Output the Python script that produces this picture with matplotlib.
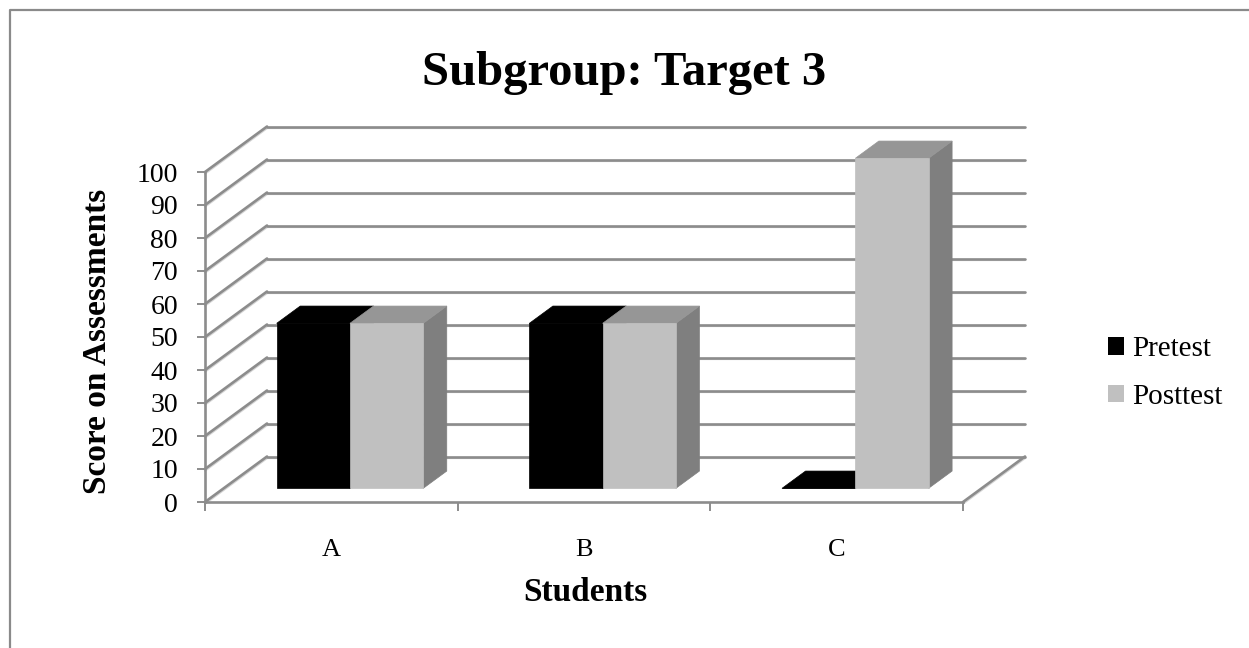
import matplotlib
matplotlib.use("Agg")
import matplotlib.pyplot as plt
import matplotlib.transforms as mtransforms
from matplotlib.patches import Polygon, Patch
from matplotlib.lines import Line2D

# ---- data ----
students = ["A", "B", "C"]
series_names = ["Pretest", "Posttest"]
pretest = [50, 50, 0]
posttest = [50, 50, 100]
y_ticks = list(range(0, 101, 10))

# ---- styling ----
FONT = ["Liberation Serif", "DejaVu Serif"]
plt.rcParams["font.family"] = FONT
GRID = "#8c8c8c"
GRID_SHADOW = "#d4d4d4"
face_colors = {
    "Pretest": {"front": "#000000", "top": "#000000", "side": "#000000"},
    "Posttest": {"front": "#c0c0c0", "top": "#969696", "side": "#7f7f7f"},
}

W, H = 1249, 648
fig = plt.figure(figsize=(W / 100, H / 100), dpi=100)

# front plane of the 3-D box (pixels) and depth offset of the back wall
front_left, front_right, front_bottom, front_top = 205, 963, 502, 172
depth_px_x, depth_px_y = 62, 45.5
n_cat = len(students)
ymax = 100
px_per_cat = (front_right - front_left) / n_cat
px_per_unit = (front_bottom - front_top) / ymax
DX = depth_px_x / px_per_cat      # depth vector in data units
DY = depth_px_y / px_per_unit

ax = fig.add_axes([front_left / W, (H - front_bottom) / H,
                   (front_right + depth_px_x - front_left) / W,
                   (front_bottom - front_top + depth_px_y) / H])
ax.set_xlim(0, n_cat + DX)
ax.set_ylim(0, ymax + DY)
ax.set_facecolor("none")

# shadow transform for the 3-D grid lines
shadow = mtransforms.offset_copy(ax.transData, fig=fig, x=0, y=-1.6, units="dots")


def gridline(xs, ys):
    ax.plot(xs, ys, color=GRID_SHADOW, lw=1.6, transform=shadow,
            solid_capstyle="round", zorder=1, clip_on=False)
    ax.plot(xs, ys, color=GRID, lw=1.9, solid_capstyle="round",
            zorder=2, clip_on=False)


# back wall horizontals and side wall diagonals
for v in y_ticks:
    gridline([DX, n_cat + DX], [v + DY, v + DY])
    gridline([0, DX], [v, v + DY])
# floor right edge
gridline([n_cat, n_cat + DX], [0, DY])

# ---- 3-D bars ----
bar_w = 0.29
d0, d1 = 0.30, 0.68


def shift(x, y, d):
    return (x + d * DX, y + d * DY)


def draw_bar(x0, x1, v, colors, z):
    front = [shift(x0, 0, d0), shift(x1, 0, d0), shift(x1, v, d0), shift(x0, v, d0)]
    top = [shift(x0, v, d0), shift(x1, v, d0), shift(x1, v, d1), shift(x0, v, d1)]
    side = [shift(x1, 0, d0), shift(x1, 0, d1), shift(x1, v, d1), shift(x1, v, d0)]
    for pts, key in ((side, "side"), (top, "top"), (front, "front")):
        ax.add_patch(Polygon(pts, closed=True, facecolor=colors[key],
                             edgecolor=colors[key], lw=0.5, zorder=z,
                             clip_on=False))


z = 5
for i in range(n_cat):
    c = i + 0.5
    draw_bar(c - bar_w, c, pretest[i], face_colors["Pretest"], z)
    z += 1
    draw_bar(c, c + bar_w, posttest[i], face_colors["Posttest"], z)
    z += 1

# ---- axes spines and ticks ----
for s in ("top", "right"):
    ax.spines[s].set_visible(False)
for s in ("left", "bottom"):
    ax.spines[s].set_color(GRID)
    ax.spines[s].set_linewidth(1.9)
    ax.spines[s].set_zorder(50)
ax.spines["left"].set_bounds(0, ymax)
ax.spines["bottom"].set_bounds(0, n_cat)

ax.set_yticks(y_ticks)
ax.set_yticklabels([str(t) for t in y_ticks])
ax.tick_params(axis="y", direction="out", length=6, width=1.4, color=GRID,
               pad=13.5, labelsize=20, labelcolor="black")
ax.set_xticks(range(n_cat + 1))
ax.set_xticklabels([])
ax.tick_params(axis="x", which="major", direction="out", length=6.5,
               width=1.4, color=GRID)
ax.set_xticks([i + 0.5 for i in range(n_cat)], minor=True)
ax.set_xticklabels(students, minor=True)
ax.tick_params(axis="x", which="minor", length=0, pad=26.5, labelsize=19,
               labelcolor="black")

# ---- text ----
fig.text(0.5, (H - 85) / H, "Subgroup: Target 3", ha="center", va="baseline",
         fontsize=35, fontweight="bold")
fig.text(585 / W, (H - 601) / H, "Students", ha="center", va="baseline",
         fontsize=24, fontweight="bold")
fig.text(97 / W, (H - 341) / H, "Score on Assessments", ha="center",
         va="center", rotation=90, fontsize=24, fontweight="bold")

# ---- legend ----
handles = [Patch(facecolor=face_colors[n]["front"], edgecolor="none")
           for n in series_names]
fig.legend(handles, series_names, loc="center left",
           bbox_to_anchor=(1093 / W, (H - 373) / H), frameon=False,
           fontsize=21, handlelength=0.55, handleheight=0.55,
           handletextpad=0.3, labelspacing=0.75, borderpad=0)

# ---- chart border ----
fig.add_artist(Line2D([10 / W, 10 / W, 1.0], [0.0, 1 - 10 / H, 1 - 10 / H],
                      transform=fig.transFigure, color="#8a8a8a", lw=1.6))

fig.savefig("out.png", dpi=100, facecolor="white")
